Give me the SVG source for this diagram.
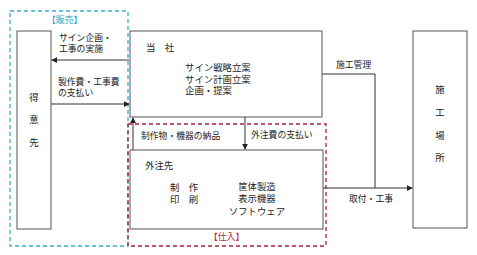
<svg xmlns="http://www.w3.org/2000/svg" width="477" height="255" viewBox="0 0 477 255">
<style>
.box{fill:#fff;stroke:#555;stroke-width:1}
.t{font-family:"Liberation Sans","Noto Sans CJK JP","Noto Sans CJK SC",sans-serif;font-size:8.8px;fill:#222}
.tb{font-family:"Liberation Sans","Noto Sans CJK JP","Noto Sans CJK SC",sans-serif;font-size:9.4px;fill:#222}
.ln{stroke:#333;stroke-width:1;fill:none}
</style>
<defs>
<marker id="ah" viewBox="0 0 8 8" refX="7" refY="4" markerWidth="6" markerHeight="6" orient="auto" markerUnits="userSpaceOnUse">
<path d="M0,0 L8,4 L0,8 z" fill="#222"/>
</marker>
</defs>
<rect width="477" height="255" fill="#fff"/>
<g id="hanbai">
<rect x="10" y="11" width="118" height="235" fill="none" stroke="#3aaecb" stroke-width="1.3" stroke-dasharray="4,3"/>
<text x="47" y="23" class="t" style="fill:#2aa4c6">【販売】</text>
</g>
<g id="shiire">
<rect x="128" y="124" width="198" height="122" fill="none" stroke="#a8203a" stroke-width="1.3" stroke-dasharray="4,3"/>
<text x="209" y="240" class="t" style="fill:#c0203a">【仕入】</text>
</g>
<g id="tokuisaki">
<rect class="box" x="17" y="31" width="34" height="198"/>
<text class="tb" text-anchor="middle"><tspan x="34" y="101">得</tspan><tspan x="34" y="123">意</tspan><tspan x="34" y="146">先</tspan></text>
</g>
<g id="tousha">
<rect class="box" x="130" y="31" width="192" height="86"/>
<text class="tb" x="146" y="51">当　社</text>
<text class="tb"><tspan x="185" y="71">サイン戦略立案</tspan><tspan x="185" y="82.5">サイン計画立案</tspan><tspan x="185" y="94">企画・提案</tspan></text>
</g>
<g id="gaichuusaki">
<rect class="box" x="130" y="150" width="193" height="79"/>
<text class="tb" x="145" y="169">外注先</text>
<text class="tb"><tspan x="170" y="191">制　作</tspan><tspan x="170" y="203">印　刷</tspan></text>
<text class="tb" text-anchor="middle"><tspan x="257" y="190">筐体製造</tspan><tspan x="257" y="202">表示機器</tspan><tspan x="257" y="215">ソフトウェア</tspan></text>
</g>
<g id="sekoubasho">
<rect class="box" x="413" y="31" width="54" height="197"/>
<text class="tb" text-anchor="middle"><tspan x="440" y="93">施</tspan><tspan x="440" y="116">工</tspan><tspan x="440" y="139">場</tspan><tspan x="440" y="161">所</tspan></text>
</g>
<g id="connectors">
<line class="ln" x1="129" y1="60" x2="52" y2="60" marker-end="url(#ah)"/>
<text class="t"><tspan x="59" y="41">サイン企画・</tspan><tspan x="59" y="52">工事の実施</tspan></text>
<line class="ln" x1="51" y1="104" x2="129" y2="104" marker-end="url(#ah)"/>
<text class="t"><tspan x="58" y="85">製作費・工事費</tspan><tspan x="58" y="96">の支払い</tspan></text>
<line class="ln" x1="133" y1="150" x2="133" y2="118" marker-end="url(#ah)"/>
<text class="t" x="141" y="139">制作物・機器の納品</text>
<line class="ln" x1="245" y1="117" x2="245" y2="149" marker-end="url(#ah)"/>
<text class="t" x="251" y="138">外注費の支払い</text>
<polyline class="ln" points="322,74 375,74 375,188"/>
<text class="t" x="336" y="68">施工管理</text>
<line class="ln" x1="323" y1="188" x2="412" y2="188" marker-end="url(#ah)"/>
<text class="t" x="349" y="202">取付・工事</text>
</g>
</svg>
